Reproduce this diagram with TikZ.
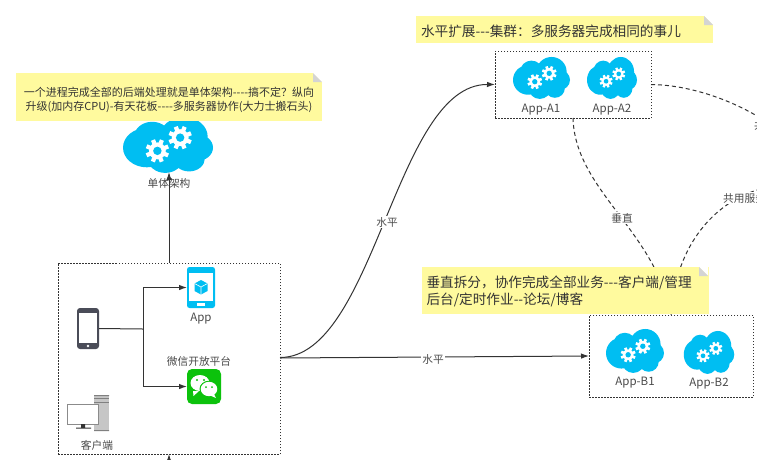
\documentclass[tikz,border=0pt]{standalone}
\usepackage{fontspec}
\setmainfont[Ligatures=TeXOff]{Noto Sans CJK SC}
\usetikzlibrary{arrows.meta,calc}
\definecolor{cloudblue}{HTML}{00BEF2}
\definecolor{notey}{HTML}{FFFA9E}
\definecolor{foldgrey}{HTML}{D4D4D4}
\definecolor{ink}{HTML}{333333}
\definecolor{txt}{HTML}{4A4A4A}
\definecolor{wxgreen}{HTML}{0CC20C}
\definecolor{phonegrey}{HTML}{4A4C58}
\newcommand{\gearglyph}[3]{%
  \begin{scope}[shift={(#1,#2)},scale=#3]
    \fill[white] (0,0) circle (.72);
    \foreach \a in {0,45,90,135}{\fill[white,rotate=\a+22] (-.18,-1) rectangle (.18,1);}
    \fill[cloudblue] (0,0) circle (.36);
  \end{scope}}
\newcommand{\cloudicon}[4]{%
  \begin{scope}[shift={(#1,#2)},xscale=#3,yscale=#4/.753]
    \fill[cloudblue] (-.235,.035) circle (.265) (-.176,-.112) circle (.2)
      (.176,-.112) circle (.265) (.32,.035) circle (.18)
      (-.03,.18) circle (.195) (.235,.18) circle (.175) (0,0) circle (.25);
  \end{scope}
  \gearglyph{#1-.118*#3}{#2+.065*#3}{.13*#3}
  \gearglyph{#1+.135*#3}{#2-.082*#3}{.13*#3}}
\newcommand{\notefold}[2]{%
  \fill[white] (#1-9,#2) -- (#1,#2) -- (#1,#2+9) -- cycle;
  \fill[foldgrey] (#1-9,#2) -- (#1,#2+9) -- (#1-9,#2+9) -- cycle;}
\tikzset{
  x=1pt,y=-1pt,
  dotbox/.style={draw=ink,line width=.8pt,dash pattern=on 1.5pt off 1.5pt,inner sep=0,outer sep=0},
  notebox/.style={fill=notey,inner sep=0,outer sep=0},
  notetext/.style 2 args={text=ink,inner sep=0,font=\fontsize{#1}{#2}\selectfont},
  lab/.style={text=txt,inner sep=0,font=\fontsize{10.7}{13}\selectfont},
  applab/.style={lab,font=\fontsize{11.5}{13}\selectfont},
  edgelab/.style={lab,fill=white,inner sep=1pt},
  conn/.style={draw=ink,line width=1pt},
  arrow/.style={conn,-{Latex[length=8pt,width=5.5pt]}},
  dashconn/.style={conn,dash pattern=on 4pt off 3pt},
  icon/.style={inner sep=0,outer sep=0,draw=none}
}
\begin{document}
\begin{tikzpicture}
\path[use as bounding box,clip] (0,0) rectangle (757,459);
\fill[white] (0,0) rectangle (757,459);

% boxes
\node[dotbox,minimum width=222pt,minimum height=191pt] (client) at (169,358.5) {};
\node[dotbox,minimum width=156pt,minimum height=67pt] (boxA) at (573,84.5) {};
\node[dotbox,minimum width=164pt,minimum height=82pt] (boxB) at (671,356) {};

% far-right free ends and junction
\coordinate (farA) at (757,116);
\coordinate (farB) at (757,190);
\coordinate (bottomEnd) at (169,466);
\coordinate (junction) at (143,329);

% dashed connectors
\draw[dashconn] (boxA.south) .. controls (575,190) and (655,230) .. (boxB.north);
\draw[dashconn] (boxB.north) .. controls (675,250) and (710,205) .. (farB);
\draw[dashconn] (boxA.east) .. controls (690,85) and (730,100) .. (farA);
\node[edgelab] (lblV) at (622,218) {垂直};
\node[edgelab,anchor=west] (lblS) at (722,198) {共用服务};
\node[edgelab,anchor=west] (lblS2) at (753,125) {共用服务};

% single cloud
\cloudicon{168}{145}{90}{56}
\node[lab] (single) at (169,183) {单体架构};

% clouds
\cloudicon{541.5}{78}{57}{42}
\cloudicon{612}{78}{50}{42}
\cloudicon{635}{351}{58}{44}
\cloudicon{709}{352.5}{50.5}{43}
\node[applab] (a1) at (541,110) {App-A1};
\node[applab] (a2) at (612,110) {App-A2};
\node[applab] (b1) at (635,383) {App-B1};
\node[applab] (b2) at (709,384) {App-B2};

% icons
\node[icon,fill=phonegrey,rounded corners=3pt,minimum width=22pt,minimum height=41pt] (phone) at (88,328.5) {};
\fill[white] (79,313) rectangle (97,343);
\fill[white] (88,346) circle (1.3);
\node[icon,fill=cloudblue,rounded corners=2.5pt,minimum width=28pt,minimum height=41pt] (app) at (201,287.5) {};
\fill[white] (189,272.5) rectangle (213,301);
\fill[white] (197,303) rectangle (205,305.5);
\fill[cloudblue] (201,280) -- (207.5,283.5) -- (207.5,291) -- (201,294.5) -- (194.5,291) -- (194.5,283.5) -- cycle;
\draw[white,line width=.6pt] (194.5,283.5) -- (201,287) -- (207.5,283.5) (201,287) -- (201,294.5);
\node[icon,fill=wxgreen,rounded corners=5pt,minimum width=34pt,minimum height=35pt] (wechat) at (204,386.5) {};
\fill[white] (200,383) ellipse (9.5 and 8) (193,391) -- (193.5,396) -- (199,391) -- cycle;
\fill[wxgreen] (209,389) ellipse (9.5 and 8.3);
\fill[white] (209,389) ellipse (8.3 and 7.2) (214,394) -- (216,398) -- (209,395) -- cycle;
\fill[wxgreen] (197,380) circle (1.1) (204,380) circle (1.1);
\fill[wxgreen] (206,387) circle (1) (212,387) circle (1);
\node[icon,fill=white,minimum width=42pt,minimum height=36pt] (desktop) at (88,413) {};
\fill[gray!45] (94,395) rectangle (109,431);
\draw[gray,line width=.7pt] (94,398) -- (109,398) (94,402) -- (109,402);
\fill[gray] (94,395) rectangle (109,396) (94,430) rectangle (109,431);
\fill[white] (67.5,404.5) rectangle (98,424);
\draw[gray!70!black!70,line width=1pt] (67.5,404.5) rectangle (98,424);
\fill[ink] (81,424) rectangle (85,428) (76,427.5) rectangle (91,428.5);
\node[applab] (applab) at (201,319) {App};
\node[lab] (wxlab) at (199,361) {微信开放平台};
\node[lab] (deskl) at (97,445) {客户端};

% solid connectors
\draw[conn] (phone.east) -- (junction);
\draw[arrow] (junction) |- (app.west);
\draw[arrow] (junction) |- (wechat.west);
\draw[arrow] (client.north) -- (single.north |- 0,172);
\draw[arrow] (bottomEnd) -- (client.south);
\draw[arrow] (client.east |- 0,357.5) .. controls (375,357.5) and (395,84) .. (boxA.west);
\draw[arrow] (client.east |- 0,358) -- (boxB.west);
\node[edgelab] (lblH1) at (387,222) {水平};
\node[edgelab] (lblH2) at (433,359) {水平};

% notes
\node[notebox,minimum width=306pt,minimum height=48pt] (note1) at (169,97) {};
\notefold{322}{73}
\node[notetext={11}{14},align=center] (note1t) at (169,99.5)
  {一个进程完成全部的后端处理就是单体架构----搞不定？纵向\\升级(加内存CPU)-有天花板----多服务器协作(大力士搬石头)};
\node[notebox,minimum width=297pt,minimum height=27pt] (note2) at (564.5,29.5) {};
\notefold{713}{16}
\node[notetext={13.65}{17},align=left,text width=287pt] (note2t) at (564.5,31.5)
  {水平扩展---集群：多服务器完成相同的事儿};
\node[notebox,minimum width=287pt,minimum height=47pt] (note3) at (565,290.5) {};
\notefold{708}{267}
\node[notetext={13.65}{17},align=left,text width=277pt] (note3t) at (565,291.5)
  {垂直拆分，协作完成全部业务---客户端/管理\\后台/定时作业--论坛/博客};
\end{tikzpicture}
\end{document}
